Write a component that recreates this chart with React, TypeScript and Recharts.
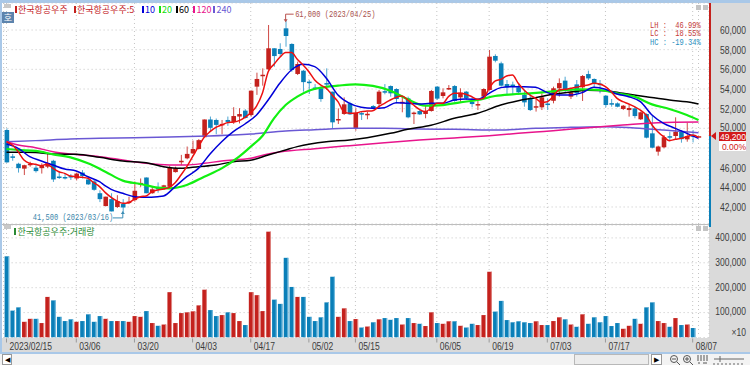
import { Bar, CartesianGrid, ComposedChart, Line, ReferenceDot, XAxis, YAxis } from "recharts";

const dates = [
  "02/15", "02/16", "02/17", "02/20", "02/21", "02/22", "02/23", "02/24", "02/27", "02/28",
  "03/02", "03/03", "03/06", "03/07", "03/08", "03/09", "03/10", "03/13", "03/14", "03/15",
  "03/16", "03/17", "03/20", "03/21", "03/22", "03/23", "03/24", "03/27", "03/28", "03/29",
  "03/30", "03/31", "04/03", "04/04", "04/05", "04/06", "04/07", "04/10", "04/11", "04/12",
  "04/13", "04/14", "04/17", "04/18", "04/19", "04/20", "04/21", "04/24", "04/25", "04/26",
  "04/27", "04/28", "05/02", "05/03", "05/04", "05/08", "05/09", "05/10", "05/11", "05/12",
  "05/15", "05/16", "05/17", "05/18", "05/19", "05/22", "05/23", "05/24", "05/25", "05/26",
  "05/30", "05/31", "06/01", "06/02", "06/05", "06/07", "06/08", "06/09", "06/12", "06/13",
  "06/14", "06/15", "06/16", "06/19", "06/20", "06/21", "06/22", "06/23", "06/26", "06/27",
  "06/28", "06/29", "06/30", "07/03", "07/04", "07/05", "07/06", "07/07", "07/10", "07/11",
  "07/12", "07/13", "07/14", "07/17", "07/18", "07/19", "07/20", "07/21", "07/24", "07/25",
  "07/26", "07/27", "07/28", "07/31", "08/01", "08/02", "08/03", "08/04", "08/07", "08/08",
];
const dateTicks = ["02/15", "03/06", "03/20", "04/03", "04/17", "05/02", "05/15", "06/05", "06/19", "07/03", "07/17", "08/07", "08/08"];
const priceTicks = [42000, 44000, 46000, 48000, 50000, 52000, 54000, 56000, 58000, 60000];
const volumeTicks = [100000, 200000, 300000, 400000];

const opens = [
  49830, 47150, 46400, 45900, 46300, 46000, 45950, 46100, 46700, 45100,
  45050, 45150, 44900, 45500, 44800, 44600, 43400, 42100, 42800, 42000,
  42300, 42450, 42700, 44350, 45000, 43400, 43950, 44150, 44050, 45550,
  46600, 46950, 47450, 47900, 49100, 50900, 50850, 50400, 50850, 50650,
  51200, 51800, 51350, 54240, 55400, 56000, 58140, 58070, 60170, 58580,
  55530, 55860, 54750, 54150, 54070, 54600, 53730, 50900, 51460, 52540,
  50000, 51550, 51400, 52270, 52480, 53780, 54300, 54000, 52540, 53050,
  51550, 51760, 51460, 51760, 54240, 53290, 54050, 54300, 53150, 53730,
  52700, 52340, 53220, 53900, 57360, 56610, 54500, 54450, 54170, 53390,
  53050, 52150, 52140, 52520, 52800, 54070, 54850, 53220, 54470, 54170,
  55520, 55020, 54550, 53320, 52560, 52540, 51970, 51860, 52030, 50920,
  51460, 49490, 47630, 48070, 49200, 49220, 49660, 48880, 49300, 49200,
];
const closes = [
  46540, 47100, 45950, 46250, 46400, 45650, 46200, 46450, 44800, 45050,
  45000, 45000, 45400, 45150, 44300, 43750, 42800, 43050, 41550, 42600,
  41950, 42550, 43650, 44450, 43400, 43800, 43900, 44200, 46000, 45950,
  46700, 47400, 47900, 48800, 50900, 50050, 50350, 50450, 50650, 51250,
  51450, 51050, 53830, 55020, 55450, 58140, 57350, 57560, 59390, 55930,
  56540, 54700, 54650, 54000, 52980, 54500, 50610, 50950, 52440, 51420,
  51590, 51450, 51480, 52030, 53730, 53680, 53560, 52980, 52700, 51120,
  51600, 51420, 51760, 53800, 53020, 53660, 54100, 52780, 53630, 53050,
  52470, 52470, 54000, 57290, 56880, 54340, 54170, 54350, 53660, 52640,
  51860, 52250, 53150, 52430, 54070, 54600, 53830, 53660, 53560, 55320,
  55080, 54600, 54450, 52370, 52480, 52200, 52300, 52070, 51250, 51630,
  49050, 48030, 48150, 49100, 49100, 49650, 48900, 49200, 49200, 49200,
];
const highs = [
  50000, 47400, 46500, 46300, 46600, 46300, 46450, 47450, 46800, 45600,
  45350, 45350, 45500, 45750, 45100, 44750, 43700, 43050, 43400, 43200,
  42800, 43050, 44600, 44900, 45000, 44050, 44500, 44250, 46200, 46100,
  47300, 48150, 48750, 48900, 50900, 51200, 51000, 50850, 51200, 52150,
  52050, 51950, 53850, 55660, 56100, 60510, 58140, 58650, 61000, 58650,
  56780, 55930, 54915, 54500, 54170, 56100, 53730, 52030, 53150, 52700,
  52030, 51700, 51700, 52370, 53900, 54500, 54370, 54070, 53290, 53220,
  51700, 51860, 52370, 53900, 54300, 54070, 54400, 54400, 54070, 53800,
  53220, 52880, 54070, 57970, 57530, 56780, 54915, 54750, 54575, 53900,
  53560, 53220, 53560, 53050, 54240, 55080, 55250, 54070, 54915, 55420,
  55870, 55080, 54915, 53390, 52980, 52640, 52370, 52370, 52200, 51700,
  51525, 51360, 48240, 49320, 49660, 51120, 49830, 50580, 49830, 49200,
];
const lows = [
  46500, 46700, 45500, 45250, 46100, 45500, 45400, 45950, 44550, 44850,
  44800, 44750, 44700, 44900, 44250, 43650, 42500, 42050, 41550, 41900,
  41500, 42300, 42550, 44050, 43400, 43350, 43450, 43750, 44000, 45500,
  46250, 46850, 47400, 47850, 49100, 49650, 49400, 49400, 50250, 50450,
  50500, 51000, 51190, 53400, 54340, 55950, 56270, 57290, 58300, 55750,
  55420, 53730, 53490, 53900, 52700, 53900, 50000, 50440, 51360, 51360,
  49760, 50850, 50920, 51930, 52030, 53460, 53220, 52540, 51630, 51020,
  50440, 51360, 51020, 51700, 52880, 53050, 53900, 52700, 52700, 52880,
  52140, 51860, 53020, 53830, 56710, 54240, 53490, 53390, 53390, 52200,
  51760, 51700, 51860, 51860, 52540, 53220, 53560, 52980, 53220, 52780,
  54915, 54170, 53560, 52140, 52200, 52140, 51860, 51190, 51020, 50850,
  48980, 47970, 47220, 47970, 48810, 48810, 48540, 48640, 48570, 49200,
];
const volumes = [
  326000, 108000, 121000, 63000, 75000, 75000, 58000, 163000, 149000, 83000,
  66000, 73000, 63000, 66000, 93000, 63000, 86000, 75000, 66000, 66000,
  66000, 63000, 86000, 83000, 106000, 58000, 47000, 52000, 182000, 58000,
  98000, 101000, 105000, 129000, 192000, 110000, 86000, 90000, 101000, 98000,
  66000, 50000, 182000, 170000, 106000, 425000, 152000, 135000, 320000, 203000,
  163000, 163000, 83000, 66000, 81000, 141000, 244000, 83000, 117000, 66000,
  74000, 40000, 44000, 61000, 73000, 78000, 71000, 78000, 52000, 78000,
  58000, 55000, 46000, 101000, 58000, 55000, 65000, 65000, 47000, 40000,
  55000, 50000, 90000, 264000, 104000, 147000, 70000, 61000, 65000, 61000,
  58000, 65000, 50000, 50000, 66000, 81000, 73000, 52000, 43000, 93000,
  55000, 81000, 61000, 86000, 46000, 58000, 35000, 47000, 75000, 55000,
  121000, 141000, 66000, 58000, 43000, 78000, 50000, 52000, 38000, 0,
];

const ma5 = [
  48640, 48300, 47630, 46780, 46440, 46340, 46200, 46370, 45930, 45590,
  45420, 45150, 45080, 45020, 44920, 44470, 44070, 43460, 42980, 42610,
  42370, 42440, 42780, 43050, 43120, 43560, 43730, 43830, 44000, 44470,
  45250, 46100, 47120, 48140, 49090, 49660, 50100, 50340, 50580, 50640,
  50780, 51120, 51590, 52270, 53560, 55760, 56510, 57220, 57700, 57700,
  57020, 56440, 55760, 54920, 54410, 54070, 53390, 52710, 51700, 51530,
  51530, 51700, 51760, 51800, 52200, 52540, 52880, 53150, 53290, 52880,
  52370, 51930, 51700, 52030, 52540, 52540, 53220, 53560, 53560, 53460,
  53220, 52950, 53050, 54070, 54810, 54980, 55320, 55420, 54580, 53900,
  53390, 53050, 52640, 52710, 53220, 53900, 53970, 54070, 54170, 54310,
  54410, 54580, 54510, 54240, 53730, 53050, 52710, 52480, 52200, 51860,
  51360, 50340, 49660, 49150, 48750, 48880, 48980, 49150, 49320, 49090,
];
// the slower averages are read at the bars where the line is clear
const ma10: [number, number][] = [
  [0, 48400], [2, 47970], [4, 47120], [6, 46680], [8, 46270], [10, 45860], [12, 45660], [14, 45080], [16, 44570],
  [17, 44140], [18, 43800], [20, 43390], [22, 43050], [24, 42980], [26, 43050], [27, 43120], [29, 44070], [31, 45080],
  [33, 45930], [35, 47390], [37, 48640], [39, 49660], [41, 50440], [43, 51360], [45, 52880], [47, 54580], [49, 55930],
  [51, 56510], [53, 56270], [55, 55090], [57, 53390], [59, 52540], [61, 52140], [63, 52030], [65, 52100], [67, 52610],
  [69, 52540], [71, 52480], [73, 52540], [75, 52540], [77, 52880], [79, 52980], [81, 52950], [83, 53560], [85, 54140],
  [87, 54240], [89, 54240], [91, 54170], [93, 53630], [95, 53390], [97, 53390], [99, 53630], [101, 54170], [103, 53970],
  [105, 53490], [107, 53220], [109, 52710], [111, 51360], [113, 50510], [115, 50000], [117, 49490], [119, 48980],
];
const ma20: [number, number][] = [
  [0, 47900], [2, 47800], [5, 47700], [8, 47360], [11, 47050], [14, 46440], [17, 45590], [20, 44680], [23, 44340],
  [26, 43970], [28, 43900], [31, 44240], [34, 45080], [37, 45930], [40, 47120], [42, 48140], [44, 49220], [46, 51020],
  [48, 52370], [50, 53220], [52, 53830], [54, 54140], [57, 54340], [60, 54480], [63, 54310], [66, 53830], [69, 52950],
  [72, 52310], [75, 52370], [78, 52640], [81, 52880], [84, 53290], [87, 53460], [90, 53560], [93, 53700], [96, 53900],
  [99, 53970], [102, 53900], [105, 53560], [108, 53220], [111, 52440], [114, 51970], [117, 51360], [119, 50850],
];
const ma60: [number, number][] = [
  [0, 47560], [3, 47560], [5, 47530], [8, 47390], [12, 47360], [16, 47050], [20, 46680], [24, 46510], [27, 46100],
  [30, 45930], [33, 46100], [36, 46270], [39, 46610], [42, 46750], [45, 47290], [48, 47800], [50, 48140], [55, 48640],
  [59, 48810], [62, 49050], [66, 49490], [69, 49900], [73, 50310], [77, 51020], [81, 51530], [85, 52370], [88, 52810],
  [91, 53120], [94, 53460], [97, 53700], [100, 53870], [103, 53830], [106, 53560], [110, 53220], [114, 52880], [118, 52610], [119, 52480],
];
const ma120: [number, number][] = [
  [0, 48640], [2, 48300], [5, 48030], [8, 47630], [11, 47390], [16, 47120], [20, 46780], [24, 46440], [28, 46270],
  [31, 46270], [34, 46440], [37, 46680], [42, 46950], [45, 47390], [47, 47590], [53, 47930], [59, 48240], [65, 48540],
  [71, 48810], [77, 49020], [83, 49250], [88, 49490], [91, 49630], [94, 49760], [100, 50070], [106, 50340], [112, 50580], [119, 50640],
];
const ma240: [number, number][] = [
  [0, 48640], [5, 48750], [11, 48920], [16, 48980], [22, 49050], [28, 49120], [33, 49190], [39, 49320], [42, 49420],
  [48, 49730], [53, 49860], [59, 50000], [65, 50000], [71, 49930], [77, 49900], [85, 49830], [91, 50000], [97, 50100],
  [103, 50170], [108, 50030], [113, 49830], [119, 49560],
];

const RED = "#c4211d";
const BLUE = "#0a7fb8";
const FONT = "'Liberation Sans', Arial, sans-serif";
const MONO = "'Liberation Mono', monospace";
const KR = "'Noto Sans CJK KR', sans-serif";

const readAt = (list: [number, number][], i: number) => {
  const hit = list.find((p) => p[0] === i);
  return hit ? hit[1] : null;
};

const table = dates.map((date, i) => ({
  date,
  open: opens[i],
  close: closes[i],
  high: highs[i],
  low: lows[i],
  range: [lows[i], highs[i]],
  volume: volumes[i],
  ma5: ma5[i],
  ma10: readAt(ma10, i),
  ma20: readAt(ma20, i),
  ma60: readAt(ma60, i),
  ma120: readAt(ma120, i),
  ma240: readAt(ma240, i),
}));

function Candle(props: any) {
  const { x, y, width, height, payload } = props;
  const { open, close, high, low } = payload;
  const up = close >= open;
  const span = high - low || 1;
  const at = (v: number) => y + ((high - v) / span) * height;
  const top = at(Math.max(open, close));
  const bottom = at(Math.min(open, close));
  const mid = x + width / 2;
  return (
    <g>
      <line x1={mid} x2={mid} y1={y} y2={y + height} stroke={up ? "#cf4a46" : "#4fa6d2"} strokeWidth={1} />
      <rect x={x} y={top} width={width} height={Math.max(bottom - top, 1.5)} fill={up ? RED : BLUE} />
    </g>
  );
}

function VolumeBar(props: any) {
  const { x, y, width, height, payload } = props;
  if (!height) return null;
  const up = payload.close >= payload.open;
  return (
    <g>
      <rect x={x} y={y} width={width} height={height} fill={up ? RED : BLUE} />
      <rect x={x + width - 1} y={y} width={1} height={height} fill={up ? "#e08a86" : "#7cc0e2"} />
    </g>
  );
}

// the original's bitmap font is tall and narrow, so squeeze the glyphs sideways
function Narrow({ x, y, color = "#3c3c3c", size = 10.5, squeeze = 0.81, font = FONT, anchor = "start", children }: any) {
  return (
    <text
      transform={`translate(${x} ${y}) scale(${squeeze} 1)`}
      textAnchor={anchor}
      fontFamily={font}
      fontSize={size}
      fill={color}
      dominantBaseline="central"
      style={{ whiteSpace: "pre" }}
    >
      {children}
    </text>
  );
}

function PriceTick({ y, payload }: any) {
  // the 48,000 label sits under the current price box in the original
  if (payload.value === 48000) return null;
  const lift = payload.value === 50000 ? 1.5 : 0;
  return <Narrow x={746} y={y - lift} anchor="end">{payload.value.toLocaleString("en-US")}</Narrow>;
}

function VolumeTick({ y, payload }: any) {
  return <Narrow x={746} y={y - 1} anchor="end">{payload.value.toLocaleString("en-US")}</Narrow>;
}

function DateTick({ x, y, payload }: any) {
  if (payload.value === "08/08") return null;
  const first = payload.value === "02/15";
  return (
    <g>
      <line x1={x} x2={x} y1={y - 5} y2={y - 1} stroke="#9a9a9a" />
      <Narrow x={x + 3} y={y + 3}>{first ? "2023/02/15" : payload.value}</Narrow>
    </g>
  );
}

function HighNote({ cx, cy }: any) {
  return (
    <g>
      <path d={`M${cx} ${cy + 1} V${cy - 6} H${cx + 8}`} fill="none" stroke="#b8524e" />
      <path d={`M${cx - 2} ${cy - 1} L${cx} ${cy + 2} L${cx + 2} ${cy - 1} Z`} fill="#b8524e" />
      <Narrow x={cx + 9.5} y={cy - 6} color="#a9524e" size={8.5} squeeze={0.83} font={MONO}>61,000 (2023/04/25)</Narrow>
    </g>
  );
}

function LowNote({ cx, cy }: any) {
  return (
    <g>
      <path d={`M${cx} ${cy} V${cy + 6} H${cx - 10}`} fill="none" stroke="#3b8db5" />
      <path d={`M${cx - 2} ${cy + 2} L${cx} ${cy - 1} L${cx + 2} ${cy + 2} Z`} fill="#3b8db5" />
      <Narrow x={cx - 90} y={cy + 5.5} color="#3b86ab" size={8.5} squeeze={0.83} font={MONO}>41,500 (2023/03/16)</Narrow>
    </g>
  );
}

function Box({ l, t, w, h, c, children, style }: any) {
  return (
    <div style={{ position: "absolute", left: l, top: t, width: w, height: h, background: c, ...style }}>{children}</div>
  );
}

function Tag({ l, t, c, text }: any) {
  return (
    <>
      <Box l={l} t={t + 3} w={2} h={7} c={c} />
      <span style={{ position: "absolute", left: l + 3.5, top: t, fontFamily: KR, fontSize: 9, lineHeight: "13px", color: c, whiteSpace: "nowrap" }}>{text}</span>
    </>
  );
}

export default function App() {
  return (
    <div style={{ position: "absolute", left: 0, top: 0, width: 750, height: 365, overflow: "hidden", background: "#f3f3f3" }}>
      <Box l={0} t={0} w={750} h={3} c="#a9c8e8" />
      <Box l={0} t={0} w={2} h={353} c="#a9c8e8" />
      <Box l={2} t={3} w={707} h={335} c="#ffffff" />
      <Box l={709} t={3} w={41} h={335} c="#dadada" />
      <Box l={2} t={338} w={748} h={14} c="#dadada" />
      <Box l={0} t={352} w={750} h={2} c="#a9c8e8" />
      <Box l={2} t={224} w={707} h={1} c="#bdbdbd" />

      <div style={{ position: "absolute", left: 0, top: 0 }}>
        <ComposedChart width={750} height={224} data={table} margin={{ top: 3, right: 0, left: 3.6, bottom: 0 }}>
          <CartesianGrid stroke="#c4c4c4" strokeDasharray="1 3" />
          <XAxis dataKey="date" hide ticks={dateTicks} interval={0} padding={{ left: 0, right: 7.6 }} />
          <YAxis orientation="right" width={41} domain={[40271, 62746]} allowDataOverflow ticks={priceTicks} interval={0} axisLine={false} tickLine={false} tick={PriceTick} />
          <Bar dataKey="range" barSize={4.6} shape={Candle} isAnimationActive={false} />
          <Line dataKey="ma240" type="monotone" connectNulls stroke="#6a58d4" strokeWidth={1.5} dot={false} isAnimationActive={false} />
          <Line dataKey="ma120" type="monotone" connectNulls stroke="#e8148c" strokeWidth={1.5} dot={false} isAnimationActive={false} />
          <Line dataKey="ma60" type="monotone" connectNulls stroke="#000000" strokeWidth={1.5} dot={false} isAnimationActive={false} />
          <Line dataKey="ma20" type="monotone" connectNulls stroke="#12f012" strokeWidth={2.2} dot={false} isAnimationActive={false} />
          <Line dataKey="ma10" type="monotone" connectNulls stroke="#0000d8" strokeWidth={1.5} dot={false} isAnimationActive={false} />
          <Line dataKey="ma5" type="monotone" stroke="#ec1010" strokeWidth={1.5} dot={false} isAnimationActive={false} />
          <ReferenceDot x="04/25" y={61000} r={0} shape={HighNote} />
          <ReferenceDot x="03/16" y={41500} r={0} shape={LowNote} />
        </ComposedChart>
      </div>

      <div style={{ position: "absolute", left: 0, top: 224 }}>
        <ComposedChart width={750} height={131} data={table} margin={{ top: 1, right: 0, left: 3.6, bottom: 0 }}>
          <CartesianGrid stroke="#c4c4c4" strokeDasharray="1 3" />
          <XAxis dataKey="date" height={17.5} ticks={dateTicks} interval={0} padding={{ left: 0, right: 7.6 }} axisLine={false} tickLine={false} tick={DateTick} tickMargin={0} />
          <YAxis orientation="right" width={41} domain={[0, 451800]} allowDataOverflow ticks={volumeTicks} interval={0} axisLine={false} tickLine={false} tick={VolumeTick} />
          <Bar dataKey="volume" barSize={4.6} shape={VolumeBar} isAnimationActive={false} />
        </ComposedChart>
      </div>

      {/* frame bits around the plot */}
      <Box l={709} t={3} w={1.5} h={133} c="#c4211d" />
      <Box l={709} t={136} w={1.5} h={88} c={BLUE} />
      <Box l={709} t={224} w={1.5} h={3} c={BLUE} />
      <svg style={{ position: "absolute", left: 710, top: 130 }} width={8} height={12}>
        <path d="M1 6 L6 2 L6 10 Z" fill="#d01818" />
      </svg>
      <Box l={719} t={131.5} w={27} h={9} c="#d31a1a" />
      <Box l={719} t={140.5} w={27} h={10} c="#ffffff" />
      <svg style={{ position: "absolute", left: 640, top: 20 }} width={110} height={132}>
        <Narrow x={10} y={5} color="#c43a36" size={8.5} squeeze={0.83} font={MONO}>LH :  46.99%</Narrow>
        <Narrow x={10} y={13.5} color="#c43a36" size={8.5} squeeze={0.83} font={MONO}>LC :  18.55%</Narrow>
        <Narrow x={10} y={22} color="#2a8fc0" size={8.5} squeeze={0.83} font={MONO}>HC : -19.34%</Narrow>
        <Narrow x={106} y={116.5} color="#ffffff" size={8.5} squeeze={1} anchor="end">49,200</Narrow>
        <Narrow x={106} y={126.5} color="#d01818" size={8.5} squeeze={1} anchor="end">0.00%</Narrow>
      </svg>
      <svg style={{ position: "absolute", left: 725, top: 325 }} width={25} height={14}>
        <Narrow x={21} y={7} anchor="end">×10</Narrow>
      </svg>

      <Tag l={14.5} t={3} c="#c4211d" text="한국항공우주" />
      <Tag l={73.5} t={3} c="#c4211d" text="한국항공우주:5" />
      <Tag l={141.5} t={3} c="#0000d8" text="10" />
      <Tag l={158.5} t={3} c="#12e012" text="20" />
      <Tag l={175.5} t={3} c="#000000" text="60" />
      <Tag l={193} t={3} c="#e8148c" text="120" />
      <Tag l={213} t={3} c="#6a58d4" text="240" />
      <Tag l={14} t={224.5} c="#2a8a34" text="한국항공우주:거래량" />

      <Box l={4} t={4} w={7} h={4} c="#c8c8c8" />
      <Box l={4} t={225} w={7} h={4} c="#c8c8c8" />
      <Box l={2} t={12} w={12} h={11} c="#5d84ad" style={{ color: "#fff", fontFamily: KR, fontSize: 9, lineHeight: "11px", textAlign: "center" }}>호</Box>
      {[5, 226].map((t) => (
        <span key={t}>
          <Box l={696} t={t} w={5} h={5} c="#c4c4c4" />
          <Box l={703} t={t} w={5} h={5} c="#c4c4c4" />
        </span>
      ))}

      <Box l={2} t={354} w={10} h={11} c="#ffffff" style={{ border: "1px solid #9a9a9a", boxSizing: "border-box", fontSize: 7, lineHeight: "9px", textAlign: "center", fontFamily: FONT }}>◀</Box>
      <Box l={574} t={354} w={75} h={11} c="#ececec" style={{ border: "1px solid #b8b8b8", boxSizing: "border-box" }} />
      <Box l={651} t={354} w={11} h={11} c="#ffffff" style={{ border: "1px solid #9a9a9a", boxSizing: "border-box", fontSize: 7, lineHeight: "9px", textAlign: "center", fontFamily: FONT }}>▶</Box>
      <svg style={{ position: "absolute", left: 666, top: 354 }} width={84} height={11}>
        <circle cx={8} cy={5} r={3.5} fill="none" stroke="#555" />
        <path d="M11 8 L14 11 M6 5 H10" stroke="#555" />
        <circle cx={21} cy={5} r={3.5} fill="none" stroke="#555" />
        <path d="M24 8 L27 11 M19 5 H23 M21 3 V7" stroke="#555" />
        <path d="M32 1 V7 M35 1 V7 M38 1 V7 M41 1 V7 M32 9 H34 M37 9 H41" stroke="#555" />
        <path d="M48 5 H78 M54 2 V8 M48 9 V11 M52 9 V11 M56 9 V11 M60 9 V11 M64 9 V11 M68 9 V11 M72 9 V11 M76 9 V11" stroke="#666" />
      </svg>
    </div>
  );
}
